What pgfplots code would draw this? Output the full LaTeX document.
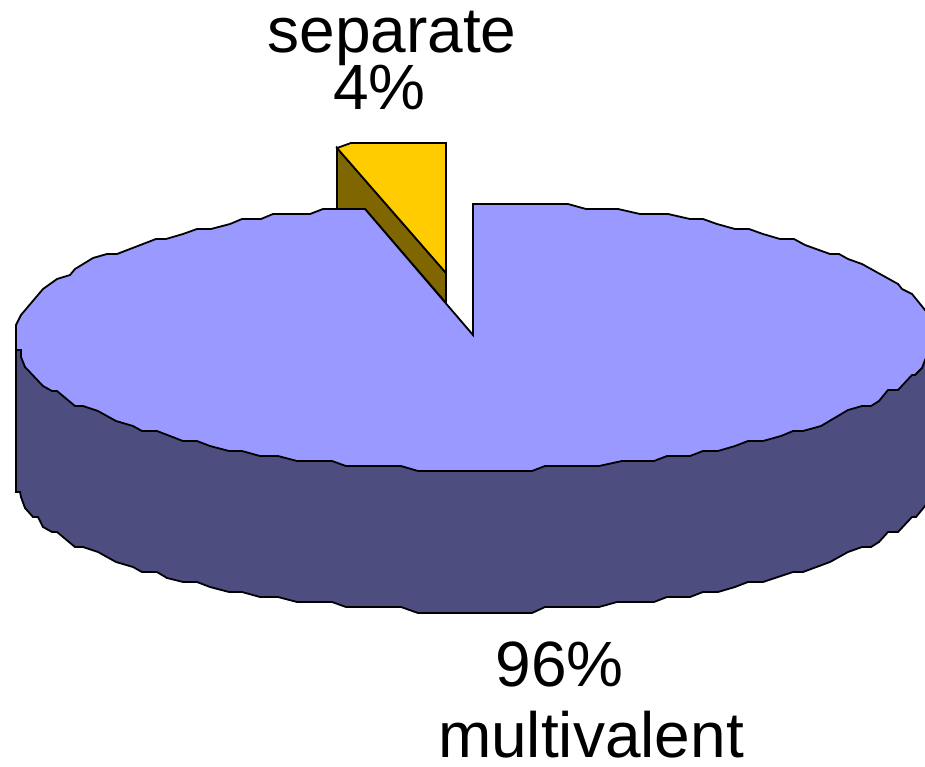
\documentclass[border=0pt]{standalone}
\usepackage{fontspec}
\setmainfont{Liberation Sans}
\usepackage{pgfplots}
\pgfplotsset{compat=1.18}
\definecolor{slicetop}{HTML}{9999FF}
\definecolor{sliceside}{HTML}{4D4D80}
\definecolor{wedgetop}{HTML}{FFCC00}
\definecolor{wedgeside}{HTML}{806600}
\begin{document}
\begin{tikzpicture}
\useasboundingbox (0,0) rectangle (925bp,767bp);
\begin{axis}[
    at={(0,0)},anchor=south west,
    scale only axis,
    width=925bp,height=767bp,
    xmin=0,xmax=925,ymin=0,ymax=767,
    y dir=reverse,
    hide axis,
    every axis plot/.append style={draw=black,line width=1.8bp,line join=miter,no markers}
]
% wedge side
\addplot[fill=wedgeside] coordinates {
(337,148) (446,273) (446,303) (365,209) (337,209) (337,148)
} --cycle;
% wedge top
\addplot[fill=wedgetop] coordinates {
(337,148) (351,143) (446,143) (446,273) (337,148)
} --cycle;
% rim of the big slice
\addplot[fill=sliceside] coordinates {
(16,350) (16,492) (20,492) (21,497) (25,508) (33,517) (38,517) (43,527) (52,532) (57,532)
(75,547) (83,547) (98,552) (116,562) (133,567) (142,572) (157,572) (167,578) (183,582)
(197,582) (210,587) (229,592) (242,592) (260,597) (278,597) (297,602) (332,602) (346,607)
(401,607) (418,613) (532,613) (545,607) (599,607) (617,602) (654,602) (667,597) (690,597)
(703,592) (718,592) (735,587) (748,582) (763,582) (793,572) (803,572) (830,562) (848,552)
(862,547) (871,547) (879,542) (888,532) (898,532) (912,517) (916,517) (925,506) (928,502)
(928,352) (16,350)
} --cycle;
% top of the big slice
\addplot[fill=slicetop] coordinates {
(16,325) (21,315) (43,289) (57,279) (70,275) (75,269) (93,258) (107,254) (117,254) (156,239)
(166,239) (183,234) (197,229) (211,229) (230,224) (242,219) (261,219) (273,214) (310,214)
(323,209) (365,209) (473,335) (473,204) (568,204) (586,209) (618,209) (640,214) (668,214)
(690,219) (703,219) (717,224) (735,229) (749,229) (763,234) (780,239) (794,239) (805,245)
(830,254) (839,254) (848,259) (862,264) (898,284) (902,289) (912,294) (925,310) (928,314)
(928,354) (925,360) (922,368) (915,375) (912,375) (898,390) (888,390) (879,401) (871,406)
(862,406) (848,410) (821,426) (803,431) (793,431) (781,436) (763,441) (748,441) (735,446)
(718,451) (703,451) (690,456) (667,456) (654,461) (622,461) (599,466) (545,466) (532,471)
(418,471) (401,466) (346,466) (332,461) (297,461) (278,456) (260,456) (242,451) (229,451)
(210,446) (197,441) (183,441) (157,431) (142,431) (133,426) (116,421) (98,411) (83,406)
(75,406) (57,391) (52,391) (43,386) (25,367) (21,357) (21,350) (16,350) (16,325)
} --cycle;
\node[anchor=base,inner sep=0pt,font=\fontsize{64bp}{70bp}\selectfont] at (axis cs:392,53) {separate};
\node[anchor=base,inner sep=0pt,font=\fontsize{64bp}{70bp}\selectfont] at (axis cs:379.5,110) {4\%};
\node[anchor=base,inner sep=0pt,font=\fontsize{64bp}{70bp}\selectfont] at (axis cs:559.5,686) {96\%};
\node[anchor=base,inner sep=0pt,font=\fontsize{64bp}{70bp}\selectfont] at (axis cs:591,757) {multivalent};
\end{axis}
\end{tikzpicture}
\end{document}
